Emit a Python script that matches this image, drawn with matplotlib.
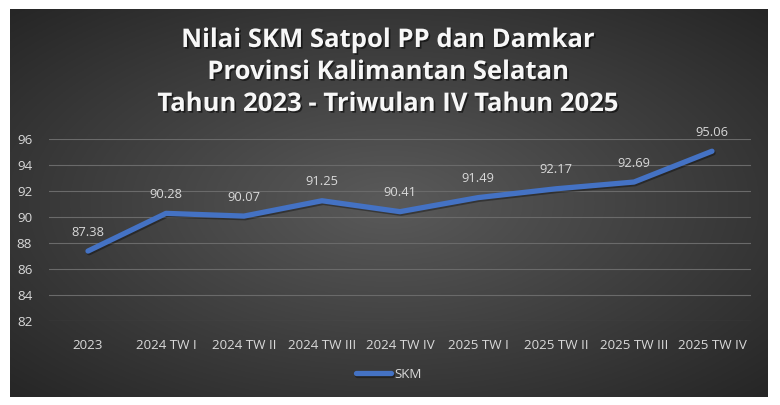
import numpy as np
import matplotlib
matplotlib.use("Agg")
import matplotlib.pyplot as plt
import matplotlib.patheffects as pe

# data
categories = ["2023", "2024 TW I", "2024 TW II", "2024 TW III", "2024 TW IV",
              "2025 TW I", "2025 TW II", "2025 TW III", "2025 TW IV"]
skm_values = [87.38, 90.28, 90.07, 91.25, 90.41, 91.49, 92.17, 92.69, 95.06]
y_ticks = [82, 84, 86, 88, 90, 92, 94, 96]
title_lines = ["Nilai SKM Satpol PP dan Damkar",
               "Provinsi Kalimantan Selatan",
               "Tahun 2023 - Triwulan IV Tahun 2025"]
series_name = "SKM"

W, H = 780, 405
LINE_BLUE = "#4472C4"
TEXT_GREY = "#D9D9D9"

plt.rcParams["font.family"] = ["Open Sans", "DejaVu Sans"]

fig = plt.figure(figsize=(W / 100, H / 100), dpi=100, facecolor="white")

# chart area with dark radial gradient
bx0, by0, bx1, by1 = 10, 9, 768, 397
bg = fig.add_axes([bx0 / W, 1 - by1 / H, (bx1 - bx0) / W, (by1 - by0) / H])
gx, gy = np.meshgrid(np.linspace(-1, 1, 400), np.linspace(-1, 1, 220))
r = np.clip(np.sqrt(gx ** 2 + gy ** 2) / np.sqrt(2), 0, 1)
inner = np.array([0x5a, 0x5a, 0x5a]) / 255
outer = np.array([0x26, 0x26, 0x26]) / 255
img = inner[None, None, :] * (1 - r[..., None]) + outer[None, None, :] * r[..., None]
bg.imshow(img, aspect="auto", extent=[0, 1, 0, 1])
bg.set_axis_off()

# plot area
px0, px1 = 49, 751
py_top, py_bot = 139, 321
ax = fig.add_axes([px0 / W, 1 - py_bot / H, (px1 - px0) / W, (py_bot - py_top) / H])
ax.patch.set_alpha(0)

x = np.arange(len(categories))
ax.plot(x, skm_values, color=LINE_BLUE, lw=3.8, solid_capstyle="round",
        solid_joinstyle="round", label=series_name, zorder=3,
        path_effects=[pe.SimpleLineShadow(offset=(0.8, -1.2), alpha=0.35, shadow_color="black"),
                      pe.Normal()])

for xi, v in zip(x, skm_values):
    ax.annotate(f"{v:.2f}", (xi, v), xytext=(0, 13.7), textcoords="offset points",
                ha="center", va="center", fontsize=9.3, color=TEXT_GREY)

ax.set_xlim(-0.5, len(categories) - 0.5)
ax.set_ylim(82, 96)
ax.set_yticks(y_ticks)
ax.set_xticks(x)
ax.set_xticklabels(categories)
ax.tick_params(axis="both", length=0, colors=TEXT_GREY, labelsize=9.6)
ax.tick_params(axis="y", pad=12)
ax.tick_params(axis="x", pad=13)
ax.grid(axis="y", color="#6A6A6A", lw=0.8)
ax.set_axisbelow(True)
for s in ax.spines.values():
    s.set_visible(False)

# title, one line at a time
baselines = [47, 79, 111]
for line, yb in zip(title_lines, baselines):
    fig.text(388.5 / W, 1 - yb / H, line, ha="center", va="baseline",
             fontsize=18.5, fontweight="bold", color="#F7F7F7",
             path_effects=[pe.withSimplePatchShadow(offset=(1.2, -1.2), shadow_rgbFace="black",
                                                    alpha=0.55)])

leg = fig.legend(loc="center", bbox_to_anchor=(389 / W, 1 - 374 / H), frameon=False,
                 fontsize=9.6, handlelength=2.6, handletextpad=0.3)
for t in leg.get_texts():
    t.set_color(TEXT_GREY)

fig.savefig("out.png", dpi=100, facecolor="white")
